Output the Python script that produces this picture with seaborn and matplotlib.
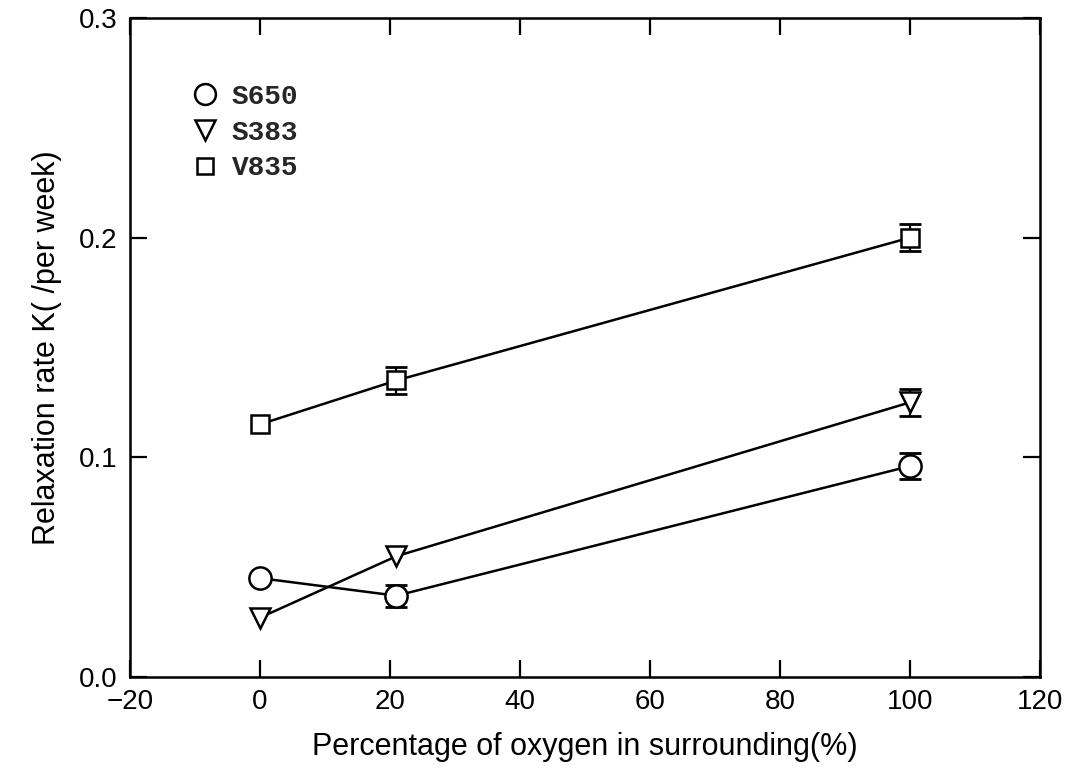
import matplotlib
matplotlib.use("Agg")
import matplotlib.pyplot as plt
from matplotlib.lines import Line2D
import seaborn as sns
import pandas as pd

# ---- data ----
oxygen = [0, 21, 100]
series_names = ["S650", "S383", "V835"]
s650 = [0.045, 0.037, 0.096]
s650_err = [0.0, 0.005, 0.006]
s383 = [0.027, 0.055, 0.125]
s383_err = [0.0, 0.0, 0.006]
v835 = [0.115, 0.135, 0.200]
v835_err = [0.0, 0.006, 0.006]
x_ticks = [-20, 0, 20, 40, 60, 80, 100, 120]
y_ticks = [0.0, 0.1, 0.2, 0.3]

values = {"S650": s650, "S383": s383, "V835": v835}
errors = {"S650": s650_err, "S383": s383_err, "V835": v835_err}
markers = {"S650": "o", "S383": "v", "V835": "s"}
msizes = {"S650": 16, "S383": 15, "V835": 12.5}

rows = []
for name in series_names:
    for x, y, e in zip(oxygen, values[name], errors[name]):
        rows.append({"oxygen": x, "K": y, "err": e, "series": name})
df = pd.DataFrame(rows)

sns.set_theme(style="white")
plt.rcParams["font.family"] = ["Liberation Sans", "DejaVu Sans"]

fig = plt.figure(figsize=(10.78, 7.82), dpi=100)
ax = fig.add_axes([0.1206, 0.1343, 0.8441, 0.8427])

for name in series_names:
    sub = df[df["series"] == name]
    eb = sub[sub["err"] > 0]
    ax.errorbar(eb["oxygen"], eb["K"], yerr=eb["err"], fmt="none",
                ecolor="black", elinewidth=1.6, capsize=8, capthick=2.0, zorder=2)
    sns.lineplot(data=sub, x="oxygen", y="K", ax=ax, color="black",
                 linewidth=1.8, marker=markers[name], markersize=msizes[name],
                 markerfacecolor="white", markeredgecolor="black",
                 markeredgewidth=1.8, zorder=3, legend=False)

ax.set_xlim(-20, 120)
ax.set_ylim(0.0, 0.3)
ax.set_xticks(x_ticks)
ax.set_yticks(y_ticks)
ax.set_xticklabels([("\u2212%d" % abs(t)) if t < 0 else str(t) for t in x_ticks])
ax.set_yticklabels(["%.1f" % t for t in y_ticks])
ax.tick_params(direction="in", length=12, width=1.6, top=True, right=True,
               bottom=True, left=True, labelsize=20, colors="black", pad=9)
for sp in ax.spines.values():
    sp.set_visible(True)
    sp.set_color("black")
    sp.set_linewidth(1.8)

ax.set_xlabel("Percentage of oxygen in surrounding(%)", fontsize=22, labelpad=12, color="black")
ax.set_ylabel("Relaxation rate K( /per week)", fontsize=22, labelpad=12, color="black")

handles = [Line2D([], [], linestyle="none", marker=markers[n], markersize=msizes[n] - 1,
                  markerfacecolor="white", markeredgecolor="black", markeredgewidth=1.8)
           for n in series_names]
leg = ax.legend(handles, series_names, loc="upper left", bbox_to_anchor=(0.052, 0.917),
                frameon=False, handletextpad=0.35, labelspacing=0.35, handlelength=1.2,
                borderaxespad=0.0,
                prop={"family": ["Liberation Mono", "DejaVu Sans Mono"], "size": 20, "weight": "bold"})

fig.savefig("out.png", dpi=100, facecolor="white")
